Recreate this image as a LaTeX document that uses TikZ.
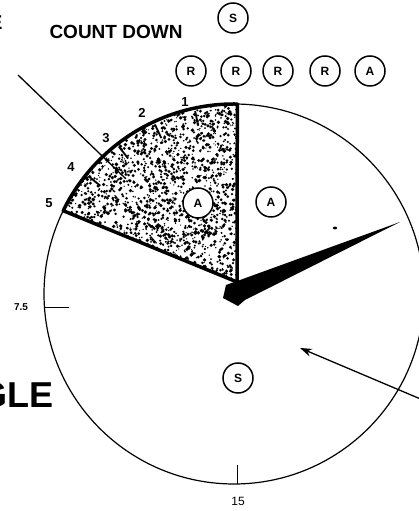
\documentclass[tikz,border=0pt]{standalone}
\usepackage{fontspec}
\setmainfont{Liberation Sans}
\usetikzlibrary{arrows.meta}

\begin{document}
\begin{tikzpicture}[x=1pt,y=1pt,
  badge/.style={circle,draw,line width=1.5pt,minimum size=30pt,inner sep=0pt,font=\bfseries\fontsize{12}{12}\selectfont},
  count/.style={font=\bfseries\fontsize{13}{13}\selectfont},
  rim/.style={line width=1.2pt},
  edge/.style={line width=3.5pt,line join=round}]
\path[use as bounding box] (0,0) rectangle (418,511);
\coordinate (dial) at (234,217);
\coordinate (hub) at (237,229);
% stippled count-down sector
\begin{scope}
\clip (hub) -- ([shift={(dial)}]89:190) arc[start angle=89,end angle=154,radius=190] -- cycle;
\pgfmathsetseed{11}
\foreach \i in {1,...,2600}
  \fill ({63+175*rnd},{225+184*rnd}) circle ({0.6+1.3*rnd});
\end{scope}
\draw[rim] (dial) circle (190);
\draw[edge] (hub) -- ([shift={(dial)}]89:190) arc[start angle=89,end angle=154,radius=190] -- cycle;
\foreach \a in {102,115,128,141}
  \draw[line width=1.8pt] ([shift={(dial)}]\a:187) -- ([shift={(dial)}]\a:172);
% scale ticks
\draw[line width=1.3pt] ([shift={(dial)}]184:190) -- ++(25,0);
\draw[line width=1.3pt] ([shift={(dial)}]271:190) -- ++(0,19);
% hand
\fill (226,226) -- (240,231) -- (400,289) -- (245,211) -- (238,205) -- (223,213) -- cycle;
\fill (335,283) ellipse (2.2 and 1.4);
% pointers
\coordinate (lead) at (18,436);
\coordinate (leadend) at (125,333);
\draw[line width=1.3pt] (lead) -- (leadend);
\coordinate (tail) at (430,108);
\coordinate (tip) at (300,163);
\draw[line width=1.3pt,-{Stealth[length=12pt,width=8pt]}] (tail) -- (tip);
% texts
\node[font=\bfseries\fontsize{19}{19}\selectfont] (title) at (116,479.5) {COUNT DOWN};
\node[anchor=base east,font=\bfseries\fontsize{20}{20}\selectfont] (cutE) at (6,481) {E};
\node[anchor=base east,font=\bfseries\fontsize{36}{36}\selectfont] (cutGLE) at (57,103) {GLE};
\node[font=\bfseries\fontsize{10}{10}\selectfont] (l75) at (21,204) {7.5};
\node[font=\fontsize{12}{12}\selectfont] (l15) at (238,10) {15};
\node[count] (c1) at (185,409) {1};
\node[count] (c2) at (142,398) {2};
\node[count] (c3) at (106,373) {3};
\node[count] (c4) at (71,344) {4};
\node[count] (c5) at (49,308) {5};
% circled letters
\node[badge] (sTop) at (233,493) {S};
\node[badge] (r1) at (191,440) {R};
\node[badge] (r2) at (236,440) {R};
\node[badge] (r3) at (278,440) {R};
\node[badge] (r4) at (325,440) {R};
\node[badge] (a1) at (370,440) {A};
\node[badge,fill=white] (aShade) at (198,308) {A};
\node[badge] (aOpen) at (271,309) {A};
\node[badge] (sLow) at (238,133) {S};
\end{tikzpicture}
\end{document}
